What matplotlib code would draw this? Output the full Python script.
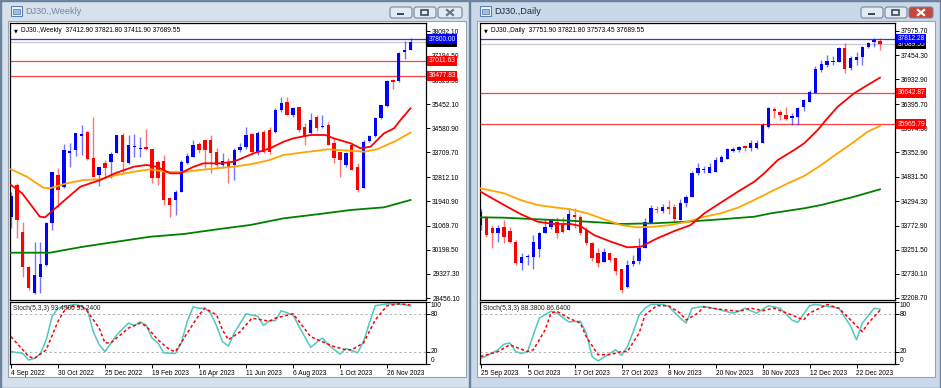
import numpy as np
import matplotlib
matplotlib.use("Agg")
import matplotlib.pyplot as plt
from matplotlib.patches import Rectangle, FancyBboxPatch

plt.rcParams["font.family"] = ["Liberation Sans", "DejaVu Sans"]

# ---------------- DJ30 weekly, 4 Sep 2022 .. 24 Dec 2023 ----------------
w_open = [31391, 32534, 30849, 29586, 28626, 29225, 29647, 31152, 32895, 32473,
          33678, 33797, 34314, 34458, 33498, 32895, 33317, 33375, 33678, 34339,
          33339, 33900, 33850, 33920, 33823, 33375, 33400, 32054, 31993, 32293,
          33317, 33556, 34014, 34159, 34159, 33736, 33257, 33375, 33257, 33797,
          33917, 34375, 33736, 34458, 34519, 34447, 35241, 35530, 35061, 35349,
          34639, 34400, 34988, 34616, 34700, 34039, 33736, 33257, 33978, 33195,
          32415, 34133, 34303, 34952, 35386, 36323, 36288, 37335, 37412.90]
w_high = [32293, 32607, 31210, 29600, 30488, 30488, 31210, 33014, 33137, 34014,
          34039, 34400, 34700, 34480, 34988, 33195, 33437, 33736, 34339, 34400,
          34339, 34375, 34278, 34545, 33850, 33437, 33617, 32113, 32354, 33437,
          33678, 34159, 34097, 34159, 34339, 33858, 33678, 33498, 33858, 34039,
          34639, 34400, 34494, 34519, 34639, 35300, 35710, 35710, 35350, 35350,
          34772, 35133, 35050, 35061, 34800, 34220, 33736, 33736, 34039, 33317,
          34159, 34339, 35000, 35422, 36323, 36360, 37350, 37731, 37821.80]
w_low = [30971, 30611, 29225, 28745, 28601, 28626, 29600, 30910, 31751, 32415,
         33195, 33592, 33617, 33450, 32834, 32498, 32834, 32776, 33678, 32956,
         33300, 33556, 33556, 33800, 32596, 32534, 31813, 31391, 31451, 32293,
         33300, 33556, 33678, 33137, 32956, 33137, 33137, 32596, 32715, 33736,
         33850, 33617, 33600, 33678, 33641, 34400, 35169, 35061, 35000, 34450,
         33978, 34350, 34500, 34580, 33978, 33317, 32834, 33195, 33076, 32293,
         32415, 34097, 34250, 34900, 35350, 35999, 36250, 37081, 37411.90]
w_close = [32137, 31271, 29586, 28806, 29286, 29683, 31174, 32993, 32354, 33797,
           33761, 34400, 34364, 33462, 32834, 33195, 33137, 33653, 34339, 33375,
           33978, 33920, 33860, 33823, 32776, 32776, 31993, 31813, 32293, 33375,
           33581, 33978, 33797, 33797, 33678, 33257, 33411, 33137, 33797, 33917,
           34339, 33736, 34400, 33736, 33736, 35241, 35494, 35061, 35313, 34519,
           34278, 34880, 34580, 34664, 33978, 33498, 33437, 33678, 33076, 32354,
           34097, 34303, 34952, 35422, 36288, 36251, 37300, 37406, 37689.55]

w_ma_red_x = [0, 1.9, 4.9, 5.8, 7.2, 9.5, 11.8, 13.5, 15.2, 17.7, 20.9, 23.1, 24.8, 27.1,
              28.8, 31.1, 32.8, 35.6, 37.9, 41.3, 44.1, 46.4, 48.1, 51, 53.5, 54.9, 57.8,
              59.5, 61.2, 63.5, 65.2, 66.3, 68]
w_ma_red = [32534, 32235, 31391, 31368, 31632, 32054, 32473, 32596, 32715, 32956, 33195,
            33257, 33195, 32956, 32956, 33195, 33317, 33317, 33375, 33678, 33858, 34097,
            34220, 34339, 34339, 34220, 34039, 33858, 33917, 34400, 34580, 34880, 35302]
w_ma_orange_x = [0, 2.7, 5.5, 6.6, 9.5, 12.3, 15.2, 18.0, 20.9, 23.7, 26.5, 29.4, 32.2,
                 35.1, 37.9, 40.7, 43.6, 46.4, 49.3, 52.1, 53.8, 57.8, 60.1, 62.3, 65.2, 68]
w_ma_orange = [33101, 32834, 32437, 32415, 32596, 32715, 32740, 32895, 33014, 33101,
               33004, 33004, 33076, 33137, 33195, 33281, 33411, 33617, 33700, 33772,
               33823, 33772, 33736, 33823, 34097, 34422]
w_ma_green_x = [0, 6.6, 12.3, 18.0, 23.7, 29.4, 35.1, 40.7, 46.4, 52.1, 57.8, 63.5, 68]
w_ma_green = [30091, 30091, 30308, 30488, 30668, 30766, 30935, 31090, 31331, 31476,
              31632, 31729, 31993]

w_st_x = [0, 2, 3, 4, 5, 6, 7, 8, 9, 11, 12, 13, 14, 15, 16, 18, 20, 21, 22, 23, 24, 25,
          26, 28, 29, 30, 31, 32, 33, 34, 35, 36, 37, 38, 40, 42, 43, 44, 45, 46, 48, 49,
          51, 53, 54, 56, 57, 59, 60, 61, 62, 64, 65, 67, 68]
w_st_main = [20, 17, 6.5, 9, 17, 39, 77, 90, 93, 96, 93, 88, 52, 31, 20, 47, 66, 62, 68,
             63, 42, 34, 18, 17, 34, 69, 92, 90, 90, 82, 61, 36, 29, 50, 81, 77, 62, 70,
             70, 86, 79, 61, 27, 42, 31, 16, 25, 18, 36, 66, 94, 97, 97, 96, 93.49]
w_sig_x = [0, 2, 3, 4, 6, 8, 9, 10, 12, 13, 15, 16, 17, 20, 22, 23, 25, 27, 28, 30, 32,
           33, 35, 36, 37, 39, 41, 44, 45, 48, 49, 51, 53, 55, 57, 58, 60, 62, 64, 66, 68]
w_st_sig = [44, 23, 12, 9, 23, 69, 85, 93, 93, 85, 58, 34, 34, 58, 66, 61, 39, 23, 20,
            50, 79, 90, 79, 55, 39, 52, 74, 69, 74, 81, 69, 44, 36, 28, 23, 23, 34, 71,
            94, 97, 95.24]

w_ticks = [38092.10, 37194.50, 36323.30, 35452.10, 34580.90, 33709.70, 32812.10,
           31940.90, 31069.70, 30198.50, 29327.30, 28456.10]
w_dates = ["4 Sep 2022", "30 Oct 2022", "25 Dec 2022", "19 Feb 2023", "16 Apr 2023",
           "11 Jun 2023", "6 Aug 2023", "1 Oct 2023", "26 Nov 2023"]
w_levels = [37011.63, 36477.83]
w_blue_level = 37800.00

# ---------------- DJ30 daily, 25 Sep 2023 .. 28 Dec 2023 ----------------
d_open = [33785, 33964, 33714, 33606, 33735, 33662, 33424, 32971, 33095, 33087,
          33260, 33606, 33748, 33856, 33785, 33677, 34001, 33964, 33677, 33390,
          33187, 32992, 33187, 33065, 32828, 32452, 32943, 33015, 33282, 33822,
          34140, 34094, 34180, 34167, 33893, 34267, 34383, 34902, 34980, 34902,
          34936, 35141, 35216, 35378, 35405, 35490, 35448, 35442, 35556, 35908,
          36284, 36220, 36161, 36090, 36125, 36340, 36448, 36630, 37133, 37241,
          37313, 37313, 37602, 37170, 37349, 37407, 37636, 37745, 37751.90]
d_high = [34124, 33980, 33785, 33785, 33893, 33735, 33461, 33187, 33165, 33569,
          33641, 33908, 33908, 33964, 33964, 34160, 34156, 34000, 33750, 33420,
          33280, 33280, 33209, 33065, 32828, 33029, 33140, 33500, 33930, 34218,
          34200, 34240, 34330, 34240, 34340, 34430, 34960, 35120, 35050, 35120,
          35260, 35290, 35450, 35470, 35500, 35510, 35620, 35620, 35990, 36340,
          36327, 36270, 36327, 36210, 36340, 36500, 36700, 37215, 37350, 37458,
          37436, 37622, 37710, 37443, 37525, 37660, 37745, 37820, 37821.80]
d_low = [33677, 33532, 33295, 33410, 33403, 33390, 32921, 32813, 32921, 32828,
         33100, 33606, 33700, 33498, 33606, 33677, 33713, 33568, 33350, 33000,
         32880, 32990, 32990, 32705, 32310, 32418, 32900, 32950, 33280, 33822,
         34050, 34040, 34020, 33850, 33893, 34180, 34383, 34870, 34900, 34900,
         34936, 35141, 35216, 35360, 35370, 35390, 35380, 35430, 35556, 35890,
         36090, 36053, 36053, 35945, 35945, 36240, 36448, 36630, 37100, 37200,
         37241, 37313, 37062, 37140, 37241, 37250, 37600, 37636, 37573.45]
d_close = [34072, 33569, 33606, 33714, 33519, 33424, 32958, 33087, 33105, 33424,
           33619, 33748, 33893, 33606, 33635, 34016, 33964, 33606, 33390, 33065,
           32970, 33209, 33030, 32798, 32381, 32921, 33015, 33282, 33856, 34146,
           34110, 34180, 34130, 33908, 34254, 34383, 34902, 35010, 35000, 35044,
           35189, 35260, 35418, 35430, 35477, 35440, 35550, 35550, 35945, 36306,
           36255, 36161, 36075, 36140, 36306, 36485, 36664, 37148, 37263, 37328,
           37328, 37602, 37148, 37386, 37407, 37636, 37723, 37781, 37689.55]

d_ma_red_x = [0, 4.0, 6.8, 9.7, 12.5, 15.3, 17.0, 19.3, 22.2, 25.0, 27.3, 30.1, 33.0,
              35.8, 38.1, 40.9, 43.8, 46.6, 48.3, 50.6, 53.4, 55.1, 57.4, 58.8, 60.8,
              63.6, 65.9, 68]
d_ma_red = [34504, 34217, 34023, 33857, 33807, 33807, 33764, 33569, 33424, 33303, 33316,
            33498, 33655, 33785, 34037, 34267, 34504, 34720, 34902, 35189, 35405, 35550,
            35837, 36053, 36340, 36630, 36809, 36967]
d_ma_orange_x = [0, 4.0, 6.8, 9.7, 12.5, 15.3, 18.2, 21.0, 23.9, 26.7, 29.5, 32.4, 35.2,
                 38.1, 40.9, 43.8, 46.6, 49.4, 52.3, 55.1, 58.0, 60.8, 63.6, 65.9, 68]
d_ma_orange = [34578, 34470, 34325, 34217, 34167, 34124, 34037, 33908, 33785, 33735,
               33748, 33785, 33857, 33964, 34037, 34159, 34325, 34504, 34685, 34843,
               35081, 35334, 35584, 35800, 35923]
d_ma_green_x = [0, 4.0, 9.7, 15.3, 21.0, 23.9, 29.5, 35.2, 40.9, 46.6, 49.4, 55.1, 58.0,
                63.6, 68]
d_ma_green = [33951, 33943, 33908, 33878, 33835, 33807, 33822, 33857, 33908, 33964,
              34037, 34146, 34217, 34396, 34556]

d_st_x = [0, 1, 3, 4, 5, 6, 7, 8, 9, 10, 12, 13, 15, 17, 18, 19, 20, 22, 23, 24, 25, 26,
          27, 28, 29, 31, 32, 34, 35, 36, 38, 40, 43, 44, 45, 47, 49, 51, 53, 54, 56, 57,
          59, 61, 63, 64, 65, 67, 68]
d_st_main = [9, 13, 23, 32, 34, 20, 17, 20, 47, 74, 85, 82, 68, 69, 50, 12, 5, 17, 23, 14,
             28, 52, 79, 90, 96, 96, 93, 74, 66, 90, 93, 89, 82, 85, 90, 82, 94, 90, 71,
             67, 94, 96, 93, 90, 61, 39, 66, 90, 88.38]
d_sig_x = [0, 3, 5, 8, 9, 11, 12, 13, 15, 17, 18, 20, 22, 24, 25, 27, 28, 30, 32, 34, 35,
           37, 38, 41, 44, 46, 48, 50, 53, 55, 56, 59, 61, 63, 65, 66, 68]
d_st_sig = [12, 20, 31, 20, 23, 55, 82, 85, 74, 66, 44, 15, 15, 20, 20, 50, 79, 94, 94, 82,
            71, 82, 92, 88, 85, 90, 86, 90, 79, 71, 82, 96, 90, 71, 52, 66, 86.64]

d_ticks = [37975.70, 37454.30, 36932.90, 36395.70, 35874.30, 35352.90, 34831.50,
           34294.30, 33772.90, 33251.50, 32730.10, 32208.70]
d_dates = ["25 Sep 2023", "5 Oct 2023", "17 Oct 2023", "27 Oct 2023", "8 Nov 2023",
           "20 Nov 2023", "30 Nov 2023", "12 Dec 2023", "22 Dec 2023"]
d_levels = [36642.87, 35965.79]
d_blue_level = 37812.28

# ---------------- figure ----------------
W, H = 941, 388
BAR = 5.875          # pixels per bar
BLUE, RED = "#0000ff", "#ff0000"
FS = 4.8

fig = plt.figure(figsize=(W / 100, H / 100), dpi=100)
fig.patch.set_facecolor("#6f86a1")
bg = fig.add_axes([0, 0, 1, 1], zorder=-10)
bg.set_xlim(0, W)
bg.set_ylim(H, 0)
bg.axis("off")
PX = bg.transData


def px_axes(x, y, w, h):
    return fig.add_axes([x / W, 1 - (y + h) / H, w / W, h / H])


def button(x, y, w, h, kind, fc, fg):
    bg.add_patch(FancyBboxPatch((x, y), w, h, boxstyle="round,pad=0,rounding_size=2.5",
                                fc=fc, ec="#76879c", lw=0.8))
    cx, cy = x + w / 2, y + h / 2
    if kind == "min":
        bg.add_patch(Rectangle((cx - 3.5, cy + 0.5), 7, 2, fc=fg, ec="none"))
    elif kind == "max":
        bg.add_patch(Rectangle((cx - 3.5, cy - 2.5), 7, 5, fc="none", ec=fg, lw=1.2))
    else:
        bg.plot([cx - 3, cx + 3], [cy - 2.5, cy + 2.5], color=fg, lw=1.6)
        bg.plot([cx - 3, cx + 3], [cy + 2.5, cy - 2.5], color=fg, lw=1.6)


def window(x, w, inner_x, inner_w, title, active):
    bg.add_patch(Rectangle((x + 0.5, 0.5), w - 1, H - 1,
                           fc="#cad9ea" if active else "#d6e1ec", ec="#6a819c", lw=1))
    bg.add_patch(Rectangle((inner_x, 21), inner_w, 356, fc="white", ec="#95a3b3", lw=0.8))
    ix = inner_x + 3
    bg.add_patch(Rectangle((ix, 6), 11, 10, fc="#eef4fa", ec="#5b81b3", lw=0.8))
    bg.add_patch(Rectangle((ix + 2, 9), 7, 5, fc="#9dc0e6", ec="#4a74a8", lw=0.5))
    bg.text(ix + 14, 12, title, fontsize=6.6, va="center",
            color="#1b2b44" if active else "#76869a")
    bx = x + w - 80
    button(bx, 7, 22, 11, "min", "#e3eaf2", "#3b4a5c")
    button(bx + 24, 7, 22, 11, "max", "#e3eaf2", "#3b4a5c")
    if active:
        button(bx + 48, 7, 24, 11, "close", "#c8473c", "white")
    else:
        button(bx + 48, 7, 24, 11, "close", "#e3eaf2", "#6a7787")


def candles(ax, o, h, l, c, min_body):
    o, h, l, c = map(np.asarray, (o, h, l, c))
    idx = np.arange(len(o))
    cols = np.where(c >= o, BLUE, RED)
    ax.vlines(idx, l, h, colors=cols, lw=1, alpha=0.55, zorder=2)
    bottom = np.minimum(o, c)
    height = np.maximum(np.abs(c - o), min_body)
    ax.bar(idx, height, width=0.58, bottom=bottom, color=cols, lw=0, zorder=2)


def tag(ax, value, text, color, z):
    ax.text(1.006, value, text, transform=ax.get_yaxis_transform(), ha="left", va="center",
            fontsize=FS, color="white", clip_on=False, zorder=z,
            bbox=dict(boxstyle="square,pad=0.2", fc=color, ec="none"))


def chart(x0, w, first_px, name, o, h, l, c, ylim, ticks, mas, blue_level, levels,
          st_x, st_main, sig_x, st_sig, dates, min_body):
    xlim = ((x0 - first_px) / BAR, (x0 + w - first_px) / BAR)

    ax = px_axes(x0, 23, w, 277)
    ax.set_facecolor("white")
    ax.set_xlim(*xlim)
    ax.set_ylim(*ylim)
    for s in ax.spines.values():
        s.set_linewidth(0.9)
    ax.set_xticks([])
    ax.yaxis.tick_right()
    ax.set_yticks(ticks)
    ax.set_yticklabels([f"{v:.2f}" for v in ticks])
    ax.tick_params(axis="y", length=3, width=0.7, pad=1.5, labelsize=FS)

    ax.axhline(c[-1], color="#c8c8c8", lw=0.9, zorder=1)
    ax.axhline(blue_level, color=BLUE, lw=0.9, alpha=0.8, zorder=1)
    for lv in levels:
        ax.axhline(lv, color=RED, lw=0.9, alpha=0.75, zorder=1)

    candles(ax, o, h, l, c, min_body)
    for mx, my, col in mas:
        ax.plot(mx, my, color=col, lw=1.3, zorder=3)

    tag(ax, c[-1], f"{c[-1]:.2f}", "black", 5)
    tag(ax, blue_level, f"{blue_level:.2f}", BLUE, 6)
    for lv in levels:
        tag(ax, lv, f"{lv:.2f}", RED, 6)

    ax.text(x0 + 3.5, 30.5, "\u25bc", transform=PX, fontsize=3.6, va="center",
            family="DejaVu Sans")
    ax.text(x0 + 11, 30.5, f"{name}  {o[-1]:.2f} {h[-1]:.2f} {l[-1]:.2f} {c[-1]:.2f}",
            transform=PX, fontsize=FS, va="center")

    sx = px_axes(x0, 302, w, 62)
    sx.set_facecolor("white")
    sx.set_xlim(*xlim)
    sx.set_ylim(0, 100)
    for s in sx.spines.values():
        s.set_linewidth(0.9)
    for lv in (20, 80):
        sx.axhline(lv, color="#b4b4b4", lw=0.7, ls=(0, (2.5, 2.5)))
    sx.plot(st_x, st_main, color="#4fc9c0", lw=1.1)
    sx.plot(sig_x, st_sig, color=RED, lw=1.1, ls=(0, (2, 1.6)))
    sx.yaxis.tick_right()
    sx.set_yticks([100, 80, 20, 0])
    sx.set_yticklabels([])
    sx.tick_params(axis="y", length=3, width=0.7)
    for v, lab, va in ((100, "100", "top"), (80, "80", "center"),
                       (20, "20", "center"), (0, "0", "bottom")):
        sx.text(1.012, v, lab, transform=sx.get_yaxis_transform(), ha="left", va=va,
                fontsize=FS, clip_on=False)
    sx.set_xticks(range(0, 8 * len(dates), 8))
    sx.set_xticklabels(dates, ha="left")
    sx.tick_params(axis="x", length=3, width=0.7, pad=1.5, labelsize=FS)
    sx.text(x0 + 3, 309, f"Stoch(5,3,3) {st_main[-1]:.4f} {st_sig[-1]:.4f}",
            transform=PX, fontsize=FS, va="center", color="#222222")


window(0, 470, 8, 458, "DJ30.,Weekly", False)
window(470, 471, 477, 458, "DJ30.,Daily", True)

chart(10, 416, 11, "DJ30.,Weekly", w_open, w_high, w_low, w_close, (28384, 38381), w_ticks,
      [(w_ma_green_x, w_ma_green, "#008000"), (w_ma_orange_x, w_ma_orange, "#ffa500"),
       (w_ma_red_x, w_ma_red, RED)],
      w_blue_level, w_levels, w_st_x, w_st_main, w_sig_x, w_st_sig, w_dates, 36)

chart(480, 415, 480.5, "DJ30.,Daily", d_open, d_high, d_low, d_close, (32165, 38148), d_ticks,
      [(d_ma_green_x, d_ma_green, "#008000"), (d_ma_orange_x, d_ma_orange, "#ffa500"),
       (d_ma_red_x, d_ma_red, RED)],
      d_blue_level, d_levels, d_st_x, d_st_main, d_sig_x, d_st_sig, d_dates, 22)

fig.savefig("out.png", dpi=100, facecolor=fig.get_facecolor())
